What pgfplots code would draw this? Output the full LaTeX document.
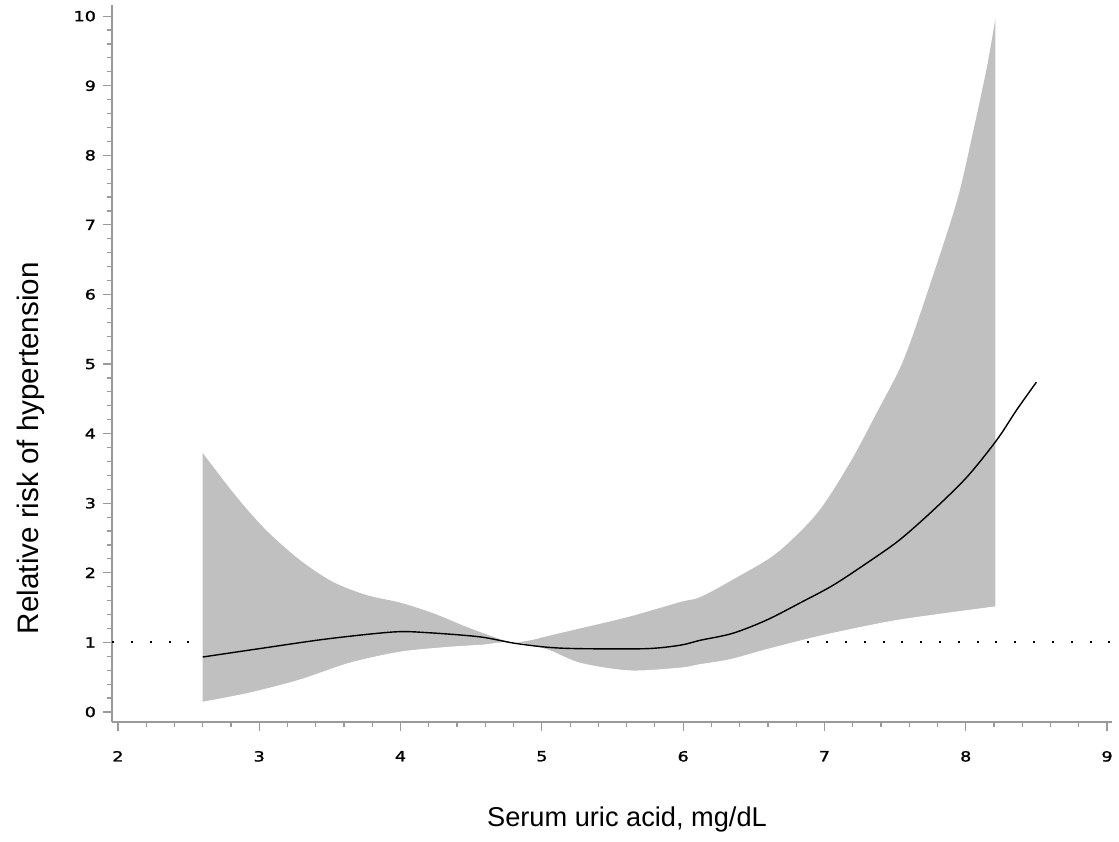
\documentclass[border=0pt]{standalone}
\usepackage{fontspec}
\setmainfont{Liberation Sans}
\newfontfamily\tickfont[FakeStretch=1.25,FakeBold=1.5]{DejaVu Sans}
\usepackage{pgfplots}
\pgfplotsset{compat=1.18}
\definecolor{band}{HTML}{C0C0C0}
\definecolor{axisgray}{HTML}{9A9A9A}

\begin{document}
\begin{tikzpicture}
\begin{axis}[
  scale only axis, width=500pt, height=358.5pt,
  xmin=1.958, xmax=9.035, ymin=-0.144, ymax=10.16,
  axis lines=left, axis line style={-, axisgray, line width=0.8pt},
  xtick={2,...,9}, ytick={0,...,10},
  minor tick num=4,
  tick align=outside, major tick length=4.5pt, minor tick length=2.5pt,
  tick style={axisgray, line width=0.6pt},
  tick label style={font=\tickfont\fontsize{7}{8}\selectfont},
  x tick label style={yshift=-6.5pt},
  /pgf/number format/assume math mode=true,
  xlabel={Serum uric acid, mg/dL},
  ylabel={Relative risk of hypertension},
  xlabel style={font=\fontsize{13.6}{16}\selectfont, at={(axis description cs:0.515,-0.1464)}, anchor=base},
  ylabel style={font=\fontsize{14.8}{17}\selectfont, at={(axis description cs:-0.081,0.382)}, anchor=center},
]
% confidence band: grey down from the upper limit, white down from the lower limit
\addplot[fill=band, draw=none, smooth] coordinates {
(2.60,3.72) (2.84,3.09) (3.05,2.61) (3.29,2.18) (3.52,1.87) (3.76,1.68)
(4.00,1.57) (4.23,1.42) (4.47,1.22) (4.70,1.05) (4.80,1.00) (4.92,1.03)
(5.04,1.09) (5.27,1.20) (5.62,1.37) (5.98,1.58) (6.12,1.65) (6.35,1.90)
(6.66,2.28) (6.95,2.86) (7.18,3.58) (7.37,4.30) (7.56,5.06) (7.75,6.16)
(7.94,7.36) (8.05,8.32) (8.15,9.27) (8.21,9.97)} \closedcycle;
\addplot[fill=white, draw=white, line width=0.5pt, smooth] coordinates {
(2.60,0.14) (2.93,0.27) (3.29,0.46) (3.64,0.70) (4.00,0.86) (4.35,0.93)
(4.58,0.96) (4.80,1.00) (5.04,0.89) (5.27,0.70) (5.62,0.59) (5.98,0.63)
(6.12,0.68) (6.33,0.75) (6.60,0.90) (6.83,1.02) (7.06,1.13) (7.53,1.32)
(8.21,1.51)} \closedcycle;

% reference line at RR = 1 (hidden behind the band)
\addplot[black, line width=1pt, dash pattern=on 1pt off 8.4pt] coordinates {(1.96,1) (2.58,1)};
\addplot[black, line width=1pt, dash pattern=on 1pt off 8.4pt] coordinates {(6.88,1) (9.03,1)};

% estimated relative risk
\addplot[black, line width=0.7pt, smooth] coordinates {
(2.60,0.79) (3.00,0.91) (3.48,1.05) (3.95,1.15) (4.19,1.14) (4.56,1.08)
(4.80,0.99) (5.04,0.93) (5.27,0.91) (5.74,0.91) (5.98,0.96) (6.12,1.03)
(6.35,1.13) (6.59,1.32) (6.83,1.57) (7.06,1.82) (7.30,2.14) (7.53,2.47)
(7.77,2.90) (8.01,3.38) (8.22,3.91) (8.36,4.34) (8.50,4.74)};
\end{axis}
\pgfresetboundingbox
\path[use as bounding box] (-56pt,-59.5pt) rectangle (503.5pt,361pt);
\end{tikzpicture}
\end{document}
